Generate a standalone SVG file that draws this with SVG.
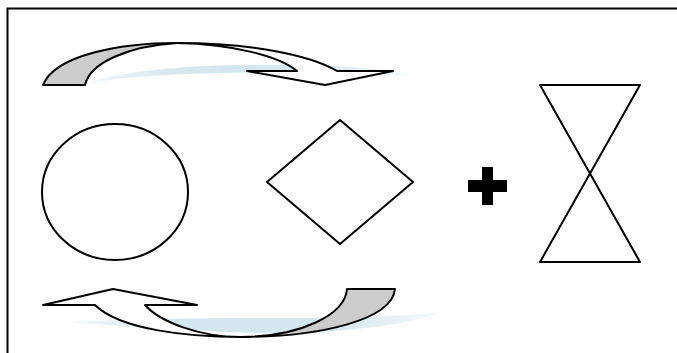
<svg xmlns="http://www.w3.org/2000/svg" width="677" height="353" viewBox="0 0 677 353">
<style>
.s{stroke:#000;stroke-width:2;fill:#fff;stroke-linejoin:round}
.g{fill:#cccccc}
.sh{fill:url(#shg)}
</style>
<defs>
<linearGradient id="shg" x1="0" x2="1" y1="0" y2="0">
<stop offset="0" stop-color="#d4e6ee" stop-opacity="0.3"/>
<stop offset="0.3" stop-color="#d4e6ee"/>
<stop offset="0.7" stop-color="#d4e6ee"/>
<stop offset="1" stop-color="#d4e6ee" stop-opacity="0.2"/>
</linearGradient>
</defs>
<rect width="677" height="353" fill="#fff"/>
<path d="M7.5,353 V8.5 H677" fill="none" stroke="#000" stroke-width="2"/>
<g id="connectors">
<g id="arrow-top">
<path class="sh" d="M85,84 C120,70 200,63 300,65 C350,66 400,70 412,76 C380,74 330,72 300,72 C200,72 120,76 85,84 Z"/>
<path class="s g" d="M43,85 C55,55 120,43 177,43 C130,46 90,62 85,85 Z"/>
<path class="s" d="M177,43 C250,43 310,55 337,71 L393,71 L325,85 L247,71 L297,71 C280,57 235,44 177,43 Z"/>
</g>
<g id="arrow-bottom">
<path class="sh" d="M70,322 C150,318 250,318 300,318 C360,318 420,315 440,312 C420,322 360,332 280,333 C200,333 120,326 70,322 Z"/>
<path class="s" d="M95,305 C120,330 190,337 240,337 C200,337 160,322 145,305 L197,305 L113,289 L43,305 Z"/>
<path class="s g" d="M240,337 C300,337 345,315 347,289 L395,289 C392,320 320,337 240,337 Z"/>
</g>
</g>
<g id="circle"><ellipse class="s" cx="115" cy="192" rx="73" ry="68"/></g>
<g id="diamond"><polygon class="s" points="267,182 340,120 413,182 340,244"/></g>
<g id="plus"><path d="M482,167 H493 V180 H507 V192 H493 V205 H482 V192 H468 V180 H482 Z" fill="#000"/></g>
<g id="hourglass"><polygon class="s" points="540,85 640,85 540,262 640,262" fill="none"/></g>
</svg>
